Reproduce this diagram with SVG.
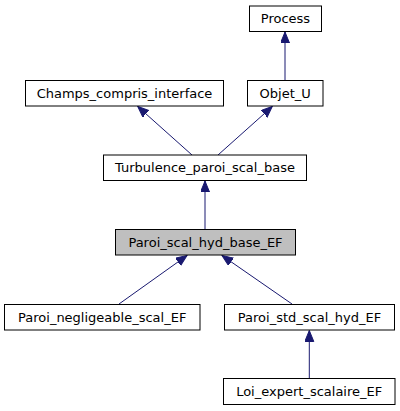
<svg xmlns="http://www.w3.org/2000/svg" width="400" height="411" viewBox="0 0 400 411">
<style>
.n rect{fill:#fff;stroke:#000;stroke-width:1}
.n.h rect{fill:#bfbfbf}
.n text{font-family:"DejaVu Sans",sans-serif;font-size:13px;text-anchor:middle;fill:#000}
.e path{fill:none;stroke:#191970;stroke-width:1}
</style>
<defs>
<marker id="a" markerUnits="userSpaceOnUse" markerWidth="12" markerHeight="10" refX="11" refY="4.5" orient="auto">
<path d="M0,0 L11,4.5 L0,9 Z" fill="#191970" stroke="#191970" stroke-width="1"/>
</marker>
</defs>
<g class="e">
<path d="M285,80.5 L285,32" marker-end="url(#a)"/>
<path d="M192,155 L137.7,106.5" marker-end="url(#a)"/>
<path d="M218,155 L272.3,106.5" marker-end="url(#a)"/>
<path d="M205,229.5 L205,181" marker-end="url(#a)"/>
<path d="M119,304 L187,255.5" marker-end="url(#a)"/>
<path d="M292,304 L222,255.5" marker-end="url(#a)"/>
<path d="M309.3,378.5 L309.3,330.5" marker-end="url(#a)"/>
</g>
<g id="Process" class="n"><rect x="249.5" y="6" width="72" height="25.5"/><text x="285.5" y="23.3">Process</text></g>
<g id="Champs_compris_interface" class="n"><rect x="25.5" y="80.5" width="198" height="25.5"/><text x="124.5" y="97.8">Champs_compris_interface</text></g>
<g id="Objet_U" class="n"><rect x="247.5" y="80.5" width="75.5" height="25.5"/><text x="285.2" y="97.8">Objet_U</text></g>
<g id="Turbulence_paroi_scal_base" class="n"><rect x="103.5" y="155" width="203" height="25.5"/><text x="205" y="172.3">Turbulence_paroi_scal_base</text></g>
<g id="Paroi_scal_hyd_base_EF" class="n h"><rect x="115.5" y="229.5" width="180" height="25.5"/><text x="205.5" y="246.8">Paroi_scal_hyd_base_EF</text></g>
<g id="Paroi_negligeable_scal_EF" class="n"><rect x="4.5" y="304.5" width="195.5" height="25.5"/><text x="102.2" y="321.8">Paroi_negligeable_scal_EF</text></g>
<g id="Paroi_std_scal_hyd_EF" class="n"><rect x="224.5" y="304.5" width="170" height="25.5"/><text x="309.5" y="321.8">Paroi_std_scal_hyd_EF</text></g>
<g id="Loi_expert_scalaire_EF" class="n"><rect x="223.5" y="378.5" width="171.5" height="26"/><text x="309.2" y="396">Loi_expert_scalaire_EF</text></g>
</svg>
